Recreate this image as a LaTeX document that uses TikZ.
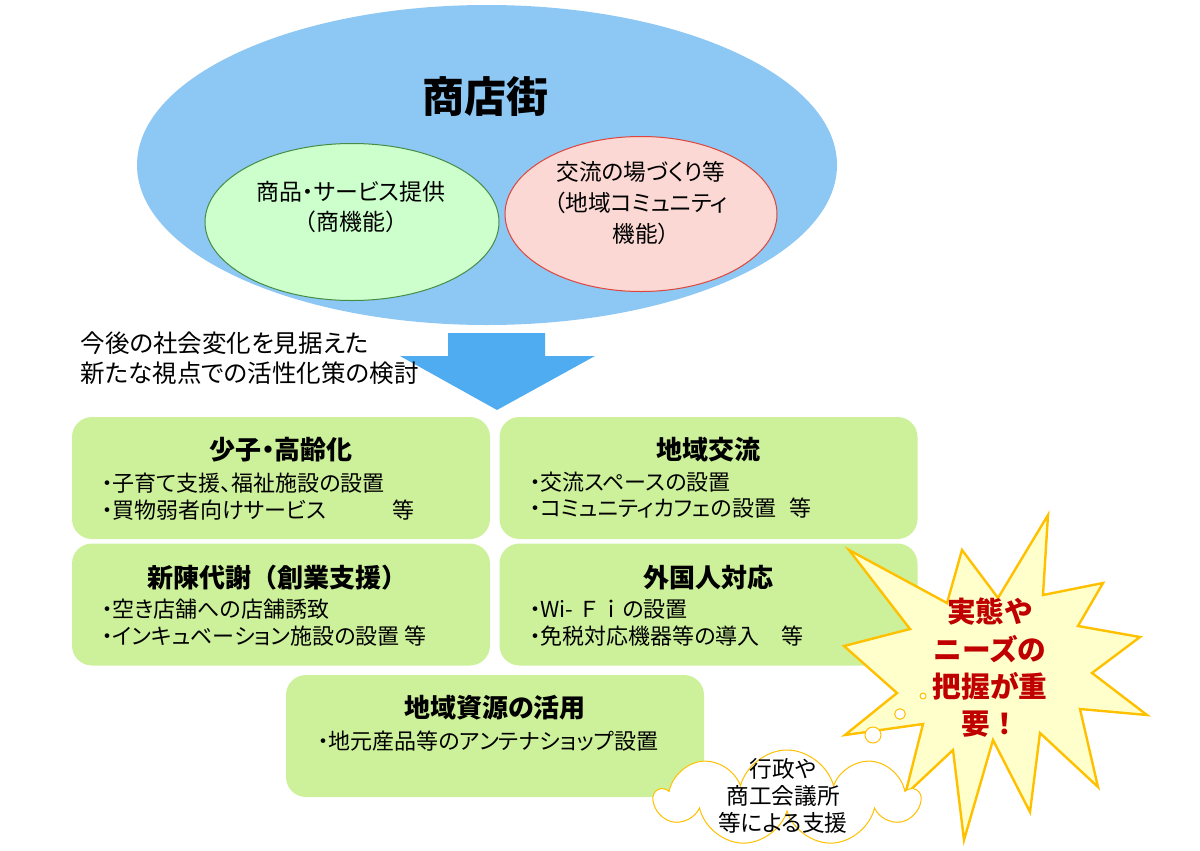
\documentclass[tikz,border=0pt]{standalone}
\usepackage{fontspec}
\setmainfont{Noto Sans CJK JP}[RawFeature={+palt}]
\newfontfamily\fullwidth{Noto Sans CJK JP}
\usetikzlibrary{shapes.geometric,shapes.symbols}

\definecolor{streetblue}{RGB}{141,199,243}
\definecolor{goodsgreen}{RGB}{204,255,204}
\definecolor{goodsline}{RGB}{70,140,70}
\definecolor{commpink}{RGB}{251,216,211}
\definecolor{commline}{RGB}{220,70,60}
\definecolor{arrowblue}{RGB}{79,172,240}
\definecolor{boxgreen}{RGB}{205,241,155}
\definecolor{burstyellow}{RGB}{255,255,204}
\definecolor{burstorange}{RGB}{255,192,0}
\definecolor{alertred}{RGB}{192,0,0}

\tikzset{every picture/.style={line width=0.75pt}}
\tikzset{
  funcellipse/.style={ellipse, inner sep=0pt},
  themebox/.style={rectangle, rounded corners=15pt, fill=boxgreen, minimum width=313.5pt, minimum height=91.5pt, inner sep=0pt},
  themetitle/.style={inner sep=0.75pt, font=\fontsize{19.5}{23}\selectfont\bfseries},
  themeitem/.style={anchor=west, inner sep=0.75pt, font=\fontsize{16.5}{20}\selectfont},
  bubble/.style={circle, draw=burstorange, fill=white, line width=0.75pt, inner sep=0pt},
}

\begin{document}
\begin{tikzpicture}[x=0.75pt,y=0.75pt,yscale=-1,xscale=1]
\useasboundingbox (0,0) rectangle (1200,850);

%Shape: Ellipse [shopping street]
\node[funcellipse, fill=streetblue, minimum width=525pt, minimum height=240pt] (street) at (487,165) {};
%Shape: Ellipse [goods]
\node[funcellipse, draw=goodsline, fill=goodsgreen, minimum width=220.5pt, minimum height=117.75pt] (goods) at (352,222) {};
%Shape: Ellipse [community]
\node[funcellipse, draw=commline, fill=commpink, minimum width=204pt, minimum height=116.25pt] (community) at (641,214) {};

% Text Node
\node[inner sep=0.75pt, font=\fontsize{31.5}{36}\selectfont\bfseries] (streettitle) at (485,97) {商店街};
% Text Node
\node[inner sep=0.75pt, align=center, font=\fontsize{17.2}{22}\selectfont] (goodstext) at (351,207) {商品・サービス提供\\{\fullwidth（商機能）}};
% Text Node
\node[inner sep=0.75pt, align=center, font=\fontsize{17}{23.25}\selectfont] (commtext) at (641,203) {交流の場づくり等\\（地域コミュニティ\\機能）};

%Shape: Down Arrow
\fill[arrowblue] (448,333) -- (545,333) -- (545,356) -- (595,356) -- (497,410) -- (400,356) -- (448,356) -- cycle;

% Text Node
\node[anchor=north west, inner sep=0.75pt, align=left, font=\fontsize{18.4}{22.5}\selectfont] (review) at (79,330) {今後の社会変化を見据えた\\新たな視点での活性化策の検討};

%Rounded Rect [themes]
\node[themebox] (aging) at (281,478) {};
\node[themebox] (exchange) at (708.5,478) {};
\node[themebox] (renewal) at (281,604.5) {};
\node[themebox] (foreign) at (708.5,604.5) {};
\node[themebox] (resources) at (495,736) {};

% Text Node
\node[themetitle] (agingtitle) at (281,450) {少子・高齢化};
\node[themeitem] (aging1) at (100,483) {・子育て支援、福祉施設の設置};
\node[themeitem] (aging2) at (100,510) {・買物弱者向けサービス　　　等};
% Text Node
\node[themetitle] (exchangetitle) at (708,450) {地域交流};
\node[themeitem] (exchange1) at (528,482) {・交流スペースの設置};
\node[themeitem] (exchange2) at (528,508) {・コミュニティカフェの設置\hspace{10pt}等};
% Text Node
\node[themetitle, font=\fullwidth\fontsize{19.5}{23}\selectfont\bfseries] (renewaltitle) at (277,578) {新陳代謝（創業支援）};
\node[themeitem] (renewal1) at (100,609) {・空き店舗への店舗誘致};
\node[themeitem] (renewal2) at (100,636) {・インキュベーション施設の設置 等};
% Text Node
\node[themetitle] (foreigntitle) at (708,578) {外国人対応};
\node[themeitem] (foreign1) at (528,609) {・Wi- {\fullwidth Ｆｉ}の設置};
\node[themeitem] (foreign2) at (528,636) {・免税対応機器等の導入　等};
% Text Node
\node[themetitle] (resourcestitle) at (495,708) {地域資源の活用};
\node[themeitem] (resources1) at (316,741) {・地元産品等のアンテナショップ設置};

%Shape: Explosion
\draw[draw=burstorange, fill=burstyellow, line width=1.8pt] (849,550) -- (947,603) -- (962,550) -- (998,598) -- (1048,515) -- (1043,595) -- (1103,583) -- (1078,626) -- (1140,637) -- (1092,673) -- (1147,715) -- (1080,709) -- (1098,787) -- (1040,733) -- (1030,812) -- (993,740) -- (964,840) -- (953,750) -- (905,795) -- (923,724) -- (845,735) -- (897,693) -- (844,646) -- (910,629) -- cycle;

%Shape: Thought bubbles
\node[bubble, minimum size=12pt] (bubble1) at (873,735) {};
\node[bubble, minimum size=8pt] (bubble2) at (900,714) {};
\node[bubble, minimum size=4.5pt] (bubble3) at (923,696) {};

%Shape: Cloud
\node[cloud, cloud puffs=9, cloud ignores aspect, draw=burstorange, fill=white, minimum width=197pt, minimum height=72pt, inner sep=0pt] (support) at (787,798) {};
% Text Node
\node[inner sep=0.75pt, align=center, font=\fontsize{17}{20.25}\selectfont] (supporttext) at (783,796) {行政や\\商工会議所\\等による支援};

% Text Node
\node[inner sep=0.75pt, align=center, text=alertred, font=\fullwidth\fontsize{21.5}{28}\selectfont\bfseries] (needs) at (990,668) {実態や\\ニーズの\\把握が重\\要！};

\end{tikzpicture}
\end{document}
